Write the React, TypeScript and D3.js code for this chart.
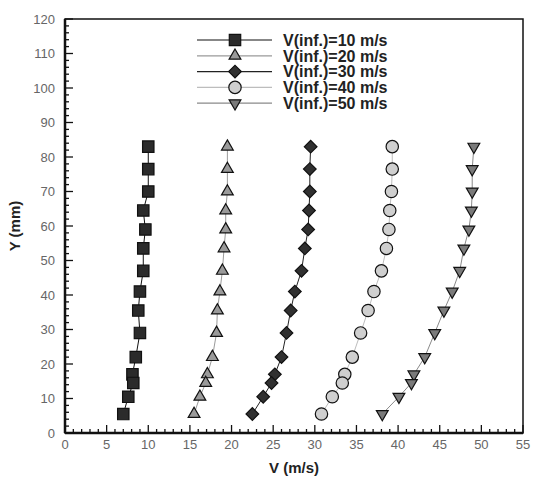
import { line, range, scaleLinear, symbol, symbolCircle, symbolDiamond, symbolSquare, symbolTriangle } from 'd3';

const width = 541;
const height = 488;
const margin = { top: 19, right: 18, bottom: 55, left: 65 };

// measurement heights (mm), shared by every series
const yPos = [83, 76.5, 70, 64.5, 59, 53.5, 47, 41, 35.5, 29, 22, 17, 14.5, 10.5, 5.5];

const v10 = [10.0, 10.0, 10.0, 9.4, 9.65, 9.4, 9.4, 9.0, 8.8, 9.0, 8.5, 8.1, 8.2, 7.6, 7.0];
const v20 = [19.5, 19.5, 19.5, 19.3, 19.3, 19.1, 18.9, 18.6, 18.3, 18.2, 17.7, 17.1, 16.9, 16.2, 15.5];
const v30 = [29.5, 29.4, 29.4, 29.3, 29.2, 28.8, 28.4, 27.6, 27.1, 26.6, 26.0, 25.2, 24.8, 23.8, 22.5];
const v40 = [39.3, 39.3, 39.2, 39.0, 38.9, 38.6, 38.0, 37.1, 36.4, 35.5, 34.5, 33.6, 33.3, 32.1, 30.8];
const v50 = [49.1, 48.9, 48.9, 48.8, 48.5, 47.9, 47.4, 46.5, 45.5, 44.4, 43.2, 41.9, 41.6, 40.1, 38.1];

const seriesNames = ['V(inf.)=10 m/s', 'V(inf.)=20 m/s', 'V(inf.)=30 m/s', 'V(inf.)=40 m/s', 'V(inf.)=50 m/s'];

const series = [
	{ name: seriesNames[0], values: v10, shape: 'square', fill: '#2b2b2b', line: '#111' },
	{ name: seriesNames[1], values: v20, shape: 'triangle', fill: '#9a9a9a', line: '#9a9a9a' },
	{ name: seriesNames[2], values: v30, shape: 'diamond', fill: '#303030', line: '#222' },
	{ name: seriesNames[3], values: v40, shape: 'circle', fill: '#cfcfcf', line: '#bdbdbd' },
	{ name: seriesNames[4], values: v50, shape: 'triangleDown', fill: '#7a7a7a', line: '#8a8a8a' },
];

const innerWidth = width - margin.left - margin.right;
const innerHeight = height - margin.top - margin.bottom;

const xScale = scaleLinear().domain([0, 55]).range([0, innerWidth]);
const yScale = scaleLinear().domain([0, 120]).range([innerHeight, 0]);

const Marker = ({ shape, x, y, fill }: any) => {
	let d = '';
	let transform = `translate(${x},${y})`;
	if (shape === 'square') d = symbol(symbolSquare, 130)() || '';
	else if (shape === 'triangle') d = symbol(symbolTriangle, 60)() || '';
	else if (shape === 'triangleDown') {
		d = symbol(symbolTriangle, 60)() || '';
		transform += ' rotate(180)';
	} else if (shape === 'diamond') {
		d = symbol(symbolSquare, 80)() || '';
		transform += ' rotate(45)';
	} else d = symbol(symbolCircle, 120)() || '';
	return <path d={d} transform={transform} fill={fill} stroke="#111" strokeWidth={1.2} />;
};

const AxisBottom = () => (
	<g transform={`translate(0,${innerHeight})`}>
		{range(0, 56, 1).map(t => (
			<line key={t} x1={xScale(t)} x2={xScale(t)} y1={0} y2={t % 5 === 0 ? -8 : -4} stroke="#111" strokeWidth={1.3} />
		))}
		{range(0, 56, 5).map(t => (
			<text key={t} x={xScale(t)} y={16} textAnchor="middle" fontSize={13} fill="#666">
				{t}
			</text>
		))}
	</g>
);

const AxisLeft = () => (
	<g>
		{range(0, 121, 2).map(t => (
			<line key={t} x1={0} x2={t % 10 === 0 ? 8 : 4} y1={yScale(t)} y2={yScale(t)} stroke="#111" strokeWidth={1.3} />
		))}
		{range(0, 121, 10).map(t => (
			<text key={t} x={-10} y={yScale(t)} dy=".35em" textAnchor="end" fontSize={13} fill="#666">
				{t}
			</text>
		))}
	</g>
);

const App = () => {
	const path = line<number>()
		.x(d => d[0])
		.y(d => d[1]);

	return (
		<svg
			width={width}
			height={height}
			style={{ position: 'absolute', left: 0, top: 0, background: '#fff' }}
			fontFamily="'Liberation Sans', Arial, sans-serif"
		>
			<g transform={`translate(${margin.left},${margin.top})`}>
				<rect x={0} y={0} width={innerWidth} height={innerHeight} fill="none" stroke="#111" strokeWidth={1.5} />
				<line x1={0} x2={innerWidth} y1={innerHeight} y2={innerHeight} stroke="#111" strokeWidth={2.5} />
				<line x1={0} x2={0} y1={0} y2={innerHeight} stroke="#111" strokeWidth={2.5} />
				<AxisBottom />
				<AxisLeft />
				{series.map(s => {
					const pts = s.values.map((v, i) => [xScale(v), yScale(yPos[i])] as [number, number]);
					return (
						<g key={s.name}>
							<path d={path(pts as any) || ''} fill="none" stroke={s.line} strokeWidth={1} />
							{pts.map((p, i) => (
								<Marker key={i} shape={s.shape} x={p[0]} y={p[1]} fill={s.fill} />
							))}
						</g>
					);
				})}
				<text
					x={xScale(27.5)}
					y={innerHeight + 40}
					textAnchor="middle"
					fontSize={15}
					fontWeight="bold"
					fill="#222"
				>
					V (m/s)
				</text>
				<text
					transform={`translate(${-45},${yScale(60)}) rotate(-90)`}
					textAnchor="middle"
					fontSize={15}
					fontWeight="bold"
					fill="#222"
				>
					Y (mm)
				</text>
			</g>
			<g transform="translate(197,40)">
				{series.map((s, i) => (
					<g key={s.name} transform={`translate(0,${i * 15.8})`}>
						<line x1={0} x2={75} y1={0} y2={0} stroke={s.line} strokeWidth={1.2} />
						<Marker shape={s.shape} x={38} y={0} fill={s.fill} />
						<text x={86} y={0} dy=".36em" fontSize={16} fontWeight="bold" fill="#222">
							{s.name}
						</text>
					</g>
				))}
			</g>
		</svg>
	);
};

export default App;
